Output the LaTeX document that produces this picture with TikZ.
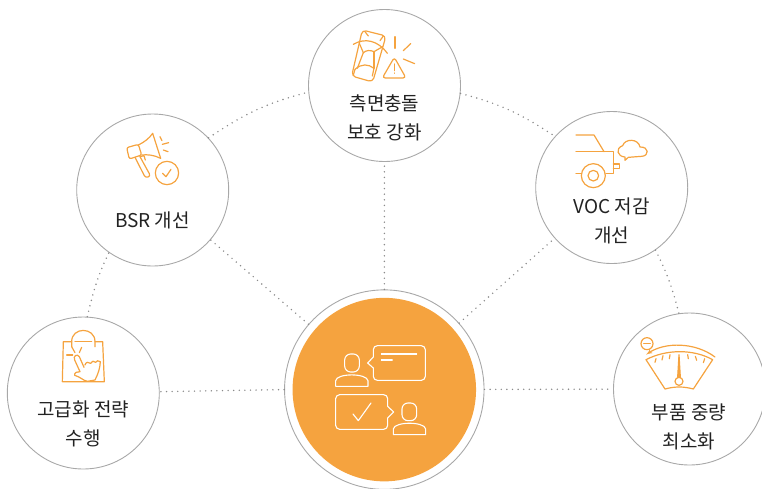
\documentclass[tikz,border=0pt]{standalone}
\usepackage{fontspec}
\setmainfont{Noto Sans CJK KR}
\usetikzlibrary{arrows}
\definecolor{iconorange}{HTML}{F5A33F}
\definecolor{ringgray}{HTML}{A8A8A8}
\definecolor{dotgray}{HTML}{8A8A8A}
\definecolor{textblack}{HTML}{222222}
\tikzset{
  item/.style={circle,draw=ringgray,line width=.9pt,minimum size=152pt,inner sep=0},
  label/.style={align=center,text=textblack,inner sep=0,font=\fontsize{19}{29}\selectfont},
  link/.style={dotgray,line width=1.6pt,line cap=round,dash pattern=on 0pt off 5.6pt},
  icon/.style={iconorange,line width=1.2pt,line join=round,line cap=round},
  wicon/.style={white,line width=1.1pt,line join=round,line cap=round}
}
\begin{document}
\begin{tikzpicture}[>=latex',x=1pt,y=-1pt]
  \useasboundingbox (0,0) rectangle (762,488);
  \node[item] (crash) at (384.5,85.5){};
  \node[item] (bsr) at (152.7,190){};
  \node[item] (voc) at (611.7,187.5){};
  \node[item] (bag) at (83.3,393){};
  \node[item] (gauge) at (689.5,389){};
  \node[circle,draw=ringgray,line width=.9pt,minimum size=199.5pt,inner sep=0] (hub) at (384.3,389.6){};
  \node[circle,fill=iconorange,minimum size=183.5pt,inner sep=0] (core) at (384.3,389.6){};

  \draw[link] (hub) -- (crash);
  \draw[link] (hub) -- (bsr);
  \draw[link] (hub) -- (voc);
  \draw[link] (hub.180) -- (bag.1);
  \draw[link] (hub) -- (gauge);
  \draw[link] (bag.87) to[out=76.6,in=244.5] (bsr.235.7);
  \draw[link] (bsr.43.8) to[out=34,in=194.4] (crash.185.6);
  \draw[link] (crash.-6) to[out=-14.4,in=146.4] (voc.138);
  \draw[link] (voc.-55.3) to[out=-63.5,in=104.3] (gauge.98.7);

  \node[label] (crashtext) at (384.5,118){측면충돌\\보호 강화};
  \node[label] (bsrtext) at (152.5,220){BSR 개선};
  \node[label] (voctext) at (611.7,221){VOC 저감\\개선};
  \node[label] (bagtext) at (83.3,424){고급화 전략\\수행};
  \node[label] (gaugetext) at (689,427){부품 중량\\최소화};

  \begin{scope}[shift={(300,0)},scale=.3333,icon]
    \draw[rounded corners=4pt] (187,90)--(258,108)--(218,246)--(155,228)--cycle;
    \draw (160,133) .. controls (195,112) and (235,122) .. (262,160);
    \draw (178,130)--(190,158);
    \draw (248,140)--(222,155);
    \draw (190,158) .. controls (200,150) and (210,150) .. (222,155);
    \draw (190,158)--(172,205);
    \draw (222,155)--(222,205);
    \draw (165,208) .. controls (185,190) and (205,192) .. (222,205)--(217,228);
    \draw (165,208)--(160,225);
    \draw (195,95)--(205,108);
    \draw (250,108)--(240,122);
    \draw (285,110)--(285,145);
    \draw (310,152)--(332,131);
    \draw (310,177)--(344,191);
    \draw[rounded corners=3pt] (283,172)--(318,234)--(247,234)--cycle;
    \draw (283,192)--(283,212);
    \draw (283,219)--(283,220);
  \end{scope}

  \begin{scope}[shift={(70,105)},scale=.3333,icon]
    \draw[rounded corners=2pt] (170,128)--(205,118)--(215,150)--(178,162)--cycle;
    \draw (205,120) .. controls (222,112) and (238,100) .. (248,85)--(272,160);
    \draw (272,160) .. controls (252,150) and (232,148) .. (215,150);
    \draw (195,157)--(223,212) .. controls (228,221) and (243,216) .. (238,206)--(210,155);
    \draw (210,155)--(222,152)--(226,165);
    \draw (270,95)--(276,107);
    \draw (277,118)--(296,113);
    \draw (280,135)--(294,140);
    \draw (291,204) circle (35);
    \draw (278,205)--(288,215)--(303,193);
  \end{scope}

  \begin{scope}[shift={(530,100)},scale=.3333,icon]
    \draw (138,105)--(192,105)--(222,155);
    \draw (138,155)--(250,155)--(250,220)--(228,220);
    \draw (138,220)--(155,220);
    \draw (190,227) circle (36);
    \draw (190,227) circle (16);
    \draw (250,192)--(268,192)--(268,206)--(250,206);
    \draw (295,172)--(285,181)--(285,171) .. controls (262,170) and (255,145) .. (278,137)
      .. controls (285,115) and (325,115) .. (330,141)
      .. controls (358,140) and (358,168) .. (335,169)--cycle;
  \end{scope}

  \begin{scope}[shift={(0,310)},scale=.3333,icon]
    \draw (215,95)--(190,95)--(187,215)--(313,215)--(308,95)--(285,95);
    \draw (215,110)--(215,95) .. controls (215,50) and (285,50) .. (285,95)--(285,110);
    \draw (225,95)--(275,95);
    \draw (200,135)--(218,135);
    \draw (215,110)--(225,128);
    \draw (245,112)--(238,128);
    \draw (252,172)--(238,140) .. controls (232,130) and (218,138) .. (224,150)--(240,185)
      .. controls (232,184) and (222,188) .. (224,196)
      .. controls (240,200) and (250,212) .. (262,214)--(285,210)
      .. controls (295,190) and (300,175) .. (301,155)
      .. controls (295,150) and (290,152) .. (287,157)
      .. controls (282,152) and (275,152) .. (272,160)
      .. controls (265,155) and (258,155) .. (255,165);
  \end{scope}

  \begin{scope}[shift={(600,318)},scale=.3333,icon]
    \draw (138,125) .. controls (200,93) and (280,93) .. (338,125)--(280,213)
      .. controls (250,205) and (225,205) .. (195,213)--cycle;
    \draw[->] (345,117) .. controls (285,72) and (195,72) .. (138,110);
    \draw (165,133)--(168,122);
    \draw (186,126)--(189,113);
    \draw (208,122)--(210,110);
    \draw (265,122)--(263,110);
    \draw (290,127)--(286,115);
    \draw (310,134)--(314,122);
    \draw[fill=iconorange] (237,110)--(233,178)--(241,178)--cycle;
    \draw (237,190) circle (12);
    \draw (141,77) circle (18);
    \draw (131,77)--(151,77);
  \end{scope}

  \begin{scope}[shift={(280,288)},scale=.3333,wicon]
    \draw[rounded corners=6pt] (194,198) rectangle (238,252);
    \draw (167,295)--(167,278) .. controls (170,255) and (260,255) .. (264,278)--(264,295)--cycle;
    \draw[rounded corners=4pt] (280,207)--(280,173)--(436,173)--(436,277)--(280,277)--(280,240);
    \draw (280,207)--(263,225)--(280,240);
    \draw (304,198)--(410,198);
    \draw (304,216)--(337,216);
    \draw[rounded corners=4pt] (323,355)--(323,320)--(167,320)--(167,424)--(323,424)--(323,390);
    \draw (323,355)--(341,372)--(323,390);
    \draw (219,378)--(235,398)--(273,345);
    \draw[rounded corners=6pt] (366,345) rectangle (410,398);
    \draw (340,440)--(340,423) .. controls (343,400) and (434,400) .. (437,423)--(437,440)--cycle;
  \end{scope}
\end{tikzpicture}
\end{document}
